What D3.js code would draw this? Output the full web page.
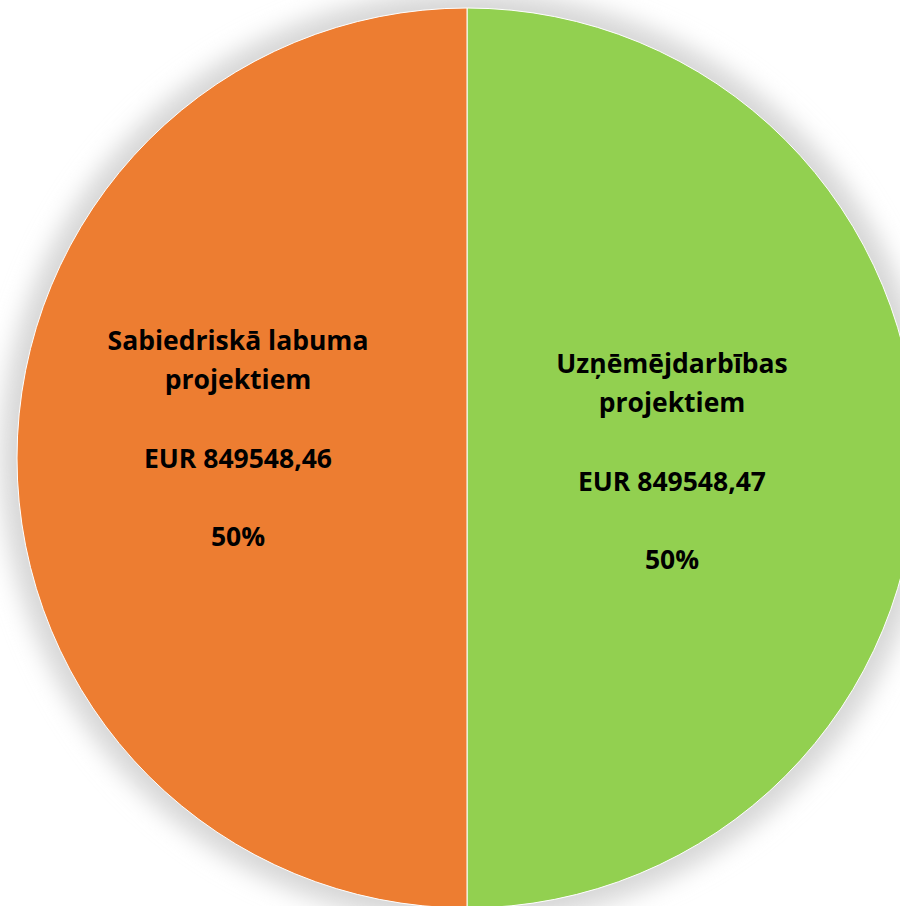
<!DOCTYPE html>
<html>
<head>
<meta charset="utf-8">
<script src="https://cdn.jsdelivr.net/npm/d3@7"></script>
<style>
  body { margin: 0; background: #ffffff; }
  svg { display: block; }
</style>
</head>
<body>
<div id="chart"></div>
<script>
// chart data
const categories = ["Uzņēmējdarbības projektiem", "Sabiedriskā labuma projektiem"];
const labelLines = [["Uzņēmējdarbības", "projektiem"], ["Sabiedriskā labuma", "projektiem"]];
const values = [849548.47, 849548.46];
const valueLabels = ["EUR 849548,47", "EUR 849548,46"];
const percentLabels = ["50%", "50%"];
const colors = ["#92D050", "#ED7D31"];

const width = 900, height = 906;
const cx = 467, cy = 458, radius = 450;

const svg = d3.select("#chart").append("svg")
    .attr("width", width)
    .attr("height", height);

// soft shadow behind the pie
const defs = svg.append("defs");
defs.append("filter")
    .attr("id", "glow")
    .attr("x", "-20%").attr("y", "-20%")
    .attr("width", "140%").attr("height", "140%")
  .append("feGaussianBlur")
    .attr("stdDeviation", 12);

const g = svg.append("g").attr("transform", `translate(${cx},${cy})`);

g.append("circle")
    .attr("r", radius + 16)
    .attr("fill", "#d6d6d6")
    .attr("filter", "url(#glow)");

const data = categories.map((c, i) => ({
    name: c, value: values[i], lines: labelLines[i],
    amount: valueLabels[i], pct: percentLabels[i], color: colors[i]
}));

const pie = d3.pie().value(d => d.value).sort(null);
const arc = d3.arc().innerRadius(0).outerRadius(radius);
const labelArc = d3.arc().innerRadius(0).outerRadius(radius * 0.96);

g.selectAll("path.slice")
    .data(pie(data))
    .enter()
    .append("path")
    .attr("class", "slice")
    .attr("d", arc)
    .attr("fill", d => d.data.color)
    .attr("stroke", "#ffffff")
    .attr("stroke-width", 1);

// labels: name lines, blank, amount, blank, percent
const lineH = 39.2;
const xShift = [-11, -13];
const yShift = [5, -18];

const labels = g.selectAll("text.label")
    .data(pie(data))
    .enter()
    .append("text")
    .attr("class", "label")
    .attr("transform", (d, i) => {
        const [x, y] = labelArc.centroid(d);
        return `translate(${x + xShift[i]},${y + yShift[i]})`;
    })
    .attr("text-anchor", "middle")
    .style("font-family", "'Open Sans', Lato, sans-serif")
    .style("font-weight", "bold")
    .style("font-size", "26.5px")
    .attr("fill", "#000000");

labels.each(function(d) {
    const rows = d.data.lines.concat(["", d.data.amount, "", d.data.pct]);
    const t = d3.select(this);
    const start = -(rows.length - 1) / 2 * lineH + 8;
    rows.forEach((r, k) => {
        if (r === "") return;
        t.append("tspan")
            .attr("x", 0)
            .attr("y", start + k * lineH)
            .text(r);
    });
});
</script>
</body>
</html>
